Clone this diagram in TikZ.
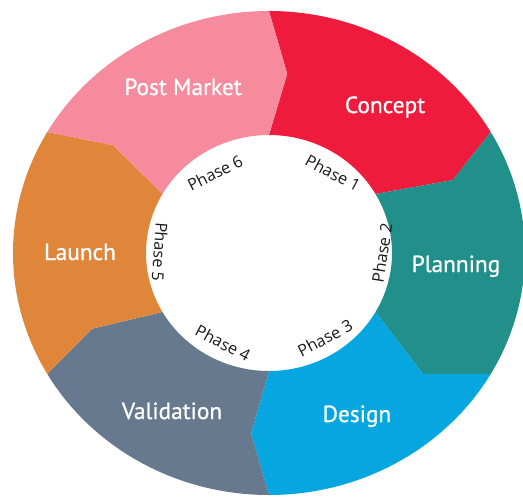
\documentclass[tikz,border=0pt]{standalone}
\usepackage{fontspec}
\setmainfont{PT Sans}
\newfontfamily\stagefont{PT Sans}[FakeBold=0.8]
\newfontfamily\phasefont{Open Sans}
\definecolor{conceptred}{HTML}{EE1B3D}
\definecolor{planteal}{HTML}{21908A}
\definecolor{designblue}{HTML}{06A6E0}
\definecolor{validslate}{HTML}{66798E}
\definecolor{launchorange}{HTML}{DF863A}
\definecolor{postpink}{HTML}{F58B9D}
\tikzset{
stagename/.style={text=white, anchor=base, font=\stagefont\fontsize{17.5}{20}\selectfont}, % white names on the ring
phasename/.style={text=black!90, font=\phasefont\fontsize{12.2}{14}\selectfont}, % phase labels inside
}

\begin{document}
\begin{tikzpicture}[x=0.75pt, y=0.75pt]
  \useasboundingbox (-269,-243) rectangle (254,253);
  \clip (-269,-243) rectangle (254,253);

  % ring segments, each one points clockwise into the next
  \fill[conceptred] (90:256 and 242) arc[start angle=90, end angle=30, x radius=256, y radius=242] -- (22.7:199 and 189) -- (30:123 and 118) arc[start angle=30, end angle=90, x radius=123, y radius=118] -- (84.5:190 and 180) -- cycle;
  \fill[planteal] (30:256 and 242) arc[start angle=30, end angle=-30, x radius=256, y radius=242] -- (-39.6:200 and 190) -- (-30:123 and 118) arc[start angle=-30, end angle=30, x radius=123, y radius=118] -- (22.7:199 and 189) -- cycle;
  \fill[designblue] (-30:256 and 242) arc[start angle=-30, end angle=-90, x radius=256, y radius=242] -- (-95.4:190 and 181) -- (-90:123 and 118) arc[start angle=-90, end angle=-30, x radius=123, y radius=118] -- (-39.6:200 and 190) -- cycle;
  \fill[validslate] (-90:256 and 242) arc[start angle=-90, end angle=-150, x radius=256, y radius=242] -- (-155.7:194 and 184) -- (-150:123 and 118) arc[start angle=-150, end angle=-90, x radius=123, y radius=118] -- (-95.4:190 and 181) -- cycle;
  \fill[launchorange] (-150:256 and 242) arc[start angle=-150, end angle=-210, x radius=256, y radius=242] -- (143.9:193 and 183) -- (150:123 and 118) arc[start angle=150, end angle=210, x radius=123, y radius=118] -- (-155.7:194 and 184) -- cycle;
  \fill[postpink] (150:256 and 242) arc[start angle=150, end angle=90, x radius=256, y radius=242] -- (84.5:190 and 180) -- (90:123 and 118) arc[start angle=90, end angle=150, x radius=123, y radius=118] -- (143.9:193 and 183) -- cycle;

  \node[stagename] (concept) at (116,140) {Concept};
  \node[stagename] (planning) at (187,-19) {Planning};
  \node[stagename] (design) at (88,-169) {Design};
  \node[stagename] (validation) at (-97,-166) {Validation};
  \node[stagename] (launch) at (-189,-7) {Launch};
  \node[stagename] (postmarket) at (-86,158) {Post Market};

  \node[phasename, rotate=-28] (phase1) at (64,80) {Phase 1};
  \node[phasename, rotate=81] (phase2) at (113,0) {Phase 2};
  \node[phasename, rotate=28] (phase3) at (56,-85) {Phase 3};
  \node[phasename, rotate=-28] (phase4) at (-46,-90) {Phase 4};
  \node[phasename, rotate=-94] (phase5) at (-109,1) {Phase 5};
  \node[phasename, rotate=27] (phase6) at (-54,80) {Phase 6};
\end{tikzpicture}
\end{document}
